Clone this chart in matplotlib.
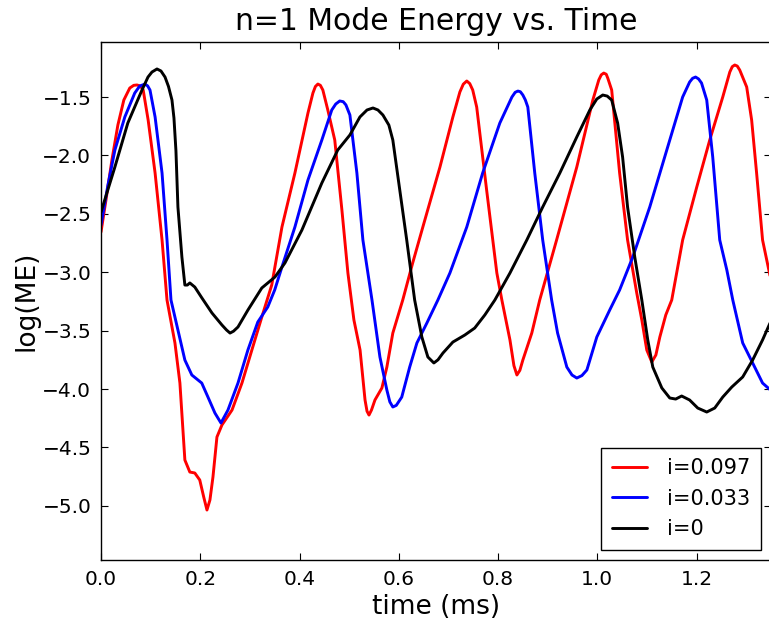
import matplotlib
matplotlib.use("Agg")
import matplotlib.pyplot as plt

# ---- data ----
t_red = [0.000, 0.010, 0.022, 0.034, 0.046, 0.058, 0.066, 0.0725, 0.079, 0.085, 0.095, 0.109, 0.123, 0.133,
         0.149, 0.159, 0.169, 0.179, 0.189, 0.199, 0.207, 0.2135, 0.2195, 0.2256, 0.2336, 0.2437,
         0.264, 0.284, 0.304, 0.324, 0.344, 0.3646, 0.3907, 0.417, 0.427, 0.432, 0.437, 0.442, 0.447, 0.457,
         0.471, 0.4854, 0.4975, 0.5096, 0.522, 0.532, 0.536, 0.540, 0.545, 0.552, 0.566, 0.576, 0.588, 0.608,
         0.628, 0.6485, 0.683, 0.709, 0.7231, 0.730, 0.737, 0.743, 0.749, 0.757, 0.777, 0.7976, 0.8077, 0.824,
         0.832, 0.838, 0.844, 0.850, 0.868, 0.884, 0.918, 0.9587, 0.991, 1.003, 1.008, 1.013, 1.018, 1.021, 1.029, 1.045,
         1.061, 1.0795, 1.0897, 1.0997, 1.1098, 1.118, 1.126, 1.138, 1.150, 1.172, 1.2004, 1.2266,
         1.2528, 1.267, 1.272, 1.277, 1.282, 1.287, 1.301, 1.311, 1.321, 1.333, 1.349]
me_red = [-2.656, -2.382, -2.039, -1.740, -1.526, -1.423, -1.400, -1.397, -1.405, -1.440, -1.697, -2.151, -2.724, -3.238,
          -3.606, -3.949, -4.608, -4.711, -4.719, -4.779, -4.925, -5.036, -4.950, -4.753, -4.411, -4.308,
          -4.180, -3.949, -3.666, -3.384, -3.110, -2.613, -2.151, -1.637, -1.466, -1.410, -1.389, -1.400, -1.440, -1.611,
          -1.868, -2.467, -3.007, -3.409, -3.666, -4.094, -4.190, -4.223, -4.180, -4.094, -3.991, -3.812, -3.521, -3.238,
          -2.921, -2.613, -2.099, -1.671, -1.457, -1.390, -1.363, -1.385, -1.440, -1.586, -2.296, -3.007, -3.238, -3.580,
          -3.800, -3.880, -3.840, -3.752, -3.521, -3.238, -2.724, -2.099, -1.526, -1.354, -1.310, -1.295, -1.305, -1.337, -1.440, -2.151,
          -2.724, -3.178, -3.409, -3.666, -3.769, -3.709, -3.555, -3.366, -3.238, -2.724, -2.271, -1.868,
          -1.500, -1.286, -1.240, -1.226, -1.235, -1.269, -1.414, -1.697, -2.151, -2.724, -3.050]

t_blue = [0.000, 0.014, 0.028, 0.048, 0.068, 0.078, 0.0886, 0.094, 0.0987, 0.109, 0.123, 0.133, 0.141,
          0.155, 0.169, 0.183, 0.203, 0.2155, 0.2296, 0.2417, 0.2558, 0.276, 0.296, 0.316, 0.336,
          0.350, 0.3646, 0.3907, 0.417, 0.445, 0.465, 0.473, 0.481, 0.488, 0.4935, 0.5015, 0.5156, 0.5277, 0.546,
          0.562, 0.576, 0.582, 0.588, 0.595, 0.606, 0.622, 0.6365, 0.6566, 0.6788, 0.703, 0.737, 0.769, 0.8036,
          0.828, 0.8345, 0.840, 0.845, 0.850, 0.855, 0.860, 0.874, 0.890, 0.908, 0.920, 0.9386, 0.949, 0.9587, 0.969, 0.979, 0.999,
          1.025, 1.045, 1.0715, 1.1057, 1.140, 1.172, 1.186, 1.192, 1.198, 1.204, 1.210, 1.2205, 1.2326, 1.2467,
          1.261, 1.273, 1.293, 1.313, 1.333, 1.349]
me_blue = [-2.596, -2.253, -1.954, -1.671, -1.466, -1.406, -1.389, -1.405, -1.440, -1.671, -2.151, -2.724, -3.238,
           -3.495, -3.752, -3.880, -3.949, -4.069, -4.206, -4.291, -4.180, -3.949, -3.666, -3.426, -3.298,
           -3.152, -2.955, -2.613, -2.211, -1.868, -1.611, -1.560, -1.534, -1.540, -1.568, -1.654, -2.151, -2.724, -3.238,
           -3.726, -4.009, -4.110, -4.154, -4.140, -4.069, -3.812, -3.606, -3.435, -3.238, -3.007, -2.613, -2.151, -1.723,
           -1.500, -1.460, -1.449, -1.455, -1.483, -1.525, -1.586, -2.151, -2.724, -3.238, -3.521, -3.812, -3.880, -3.906, -3.885, -3.837, -3.555,
           -3.324, -3.152, -2.870, -2.442, -1.954, -1.500, -1.372, -1.340, -1.329, -1.345, -1.380, -1.526, -2.014, -2.724,
           -2.981, -3.238, -3.606, -3.777, -3.949, -4.009]

t_black = [0.000, 0.028, 0.054, 0.0826, 0.0947, 0.1027, 0.1128, 0.1208, 0.129, 0.136, 0.143, 0.147, 0.151, 0.155,
           0.163, 0.169, 0.174, 0.179, 0.189, 0.2034, 0.2236, 0.2437, 0.253, 0.260, 0.267, 0.276, 0.296, 0.324, 0.3505,
           0.3706, 0.4048, 0.445, 0.477, 0.5015, 0.5217, 0.536, 0.548, 0.558, 0.568, 0.580, 0.588,
           0.602, 0.616, 0.632, 0.6465, 0.6586, 0.6707, 0.679, 0.689, 0.709, 0.733, 0.753, 0.7734, 0.7936,
           0.824, 0.858, 0.890, 0.9245, 0.9587, 0.985, 0.999, 1.011, 1.020, 1.029, 1.041, 1.051, 1.061,
           1.0755, 1.0897, 1.1017, 1.1118, 1.130, 1.146, 1.158, 1.170, 1.186, 1.2024, 1.2205, 1.2366,
           1.2528, 1.271, 1.293, 1.313, 1.333, 1.349]
me_black = [-2.485, -2.099, -1.723, -1.440, -1.329, -1.286, -1.260, -1.277, -1.329, -1.410, -1.526, -1.680, -1.960, -2.442,
            -2.870, -3.110, -3.110, -3.092, -3.127, -3.221, -3.349, -3.452, -3.495, -3.521, -3.505, -3.469, -3.324, -3.135, -3.041,
            -2.921, -2.639, -2.236, -1.954, -1.825, -1.671, -1.611, -1.594, -1.611, -1.654, -1.740, -1.868,
            -2.296, -2.724, -3.238, -3.555, -3.726, -3.777, -3.750, -3.692, -3.598, -3.538, -3.478, -3.366, -3.238,
            -3.007, -2.724, -2.442, -2.151, -1.842, -1.611, -1.517, -1.483, -1.492, -1.526, -1.723, -2.014, -2.442,
            -2.870, -3.238, -3.580, -3.812, -3.991, -4.077, -4.086, -4.060, -4.094, -4.163, -4.197, -4.163,
            -4.069, -3.983, -3.897, -3.752, -3.580, -3.426]

labels = ["i=0.097", "i=0.033", "i=0"]
colors = ["red", "blue", "black"]
xticks = [0.0, 0.2, 0.4, 0.6, 0.8, 1.0, 1.2]
yticks = [-5.0, -4.5, -4.0, -3.5, -3.0, -2.5, -2.0, -1.5]

fig = plt.figure(figsize=(7.69, 6.19), dpi=100)
ax = fig.add_axes([101 / 769, 1 - 560 / 619, 670 / 769, (560 - 42) / 619])

for t, me, lab, c in zip([t_red, t_blue, t_black], [me_red, me_blue, me_black], labels, colors):
    ax.plot(t, me, color=c, lw=2.1, label=lab, solid_joinstyle="round", solid_capstyle="round")

ax.set_xlim(0, 1.35)
ax.set_ylim(-5.464, -1.029)
ax.set_xticks(xticks)
ax.set_yticks(yticks)
ax.set_xticklabels([f"{v:.1f}" for v in xticks])
ax.set_yticklabels([f"\u2212{abs(v):.1f}" for v in yticks])
ax.tick_params(direction="in", length=5, width=0.8, top=True, right=True,
               labelsize=14.5, pad=7, color="black")
for s in ax.spines.values():
    s.set_linewidth(1.0)

ax.set_title("n=1 Mode Energy vs. Time", fontsize=21.5, pad=9)
ax.set_xlabel("time (ms)", fontsize=19)
ax.set_ylabel("log(ME)", fontsize=19, labelpad=2)

leg = ax.legend(loc="lower right", fontsize=15, fancybox=False, framealpha=1,
                edgecolor="black", handlelength=1.7, handletextpad=0.95,
                borderaxespad=0.5, labelspacing=0.5, borderpad=0.5)
leg.get_frame().set_linewidth(1.0)

fig.savefig("out.png", dpi=100)
